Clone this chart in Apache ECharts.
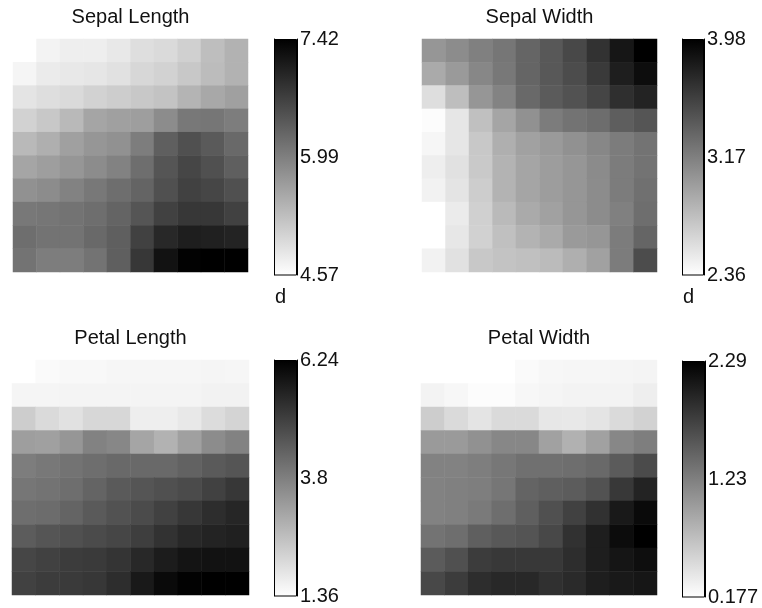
<!DOCTYPE html>
<html>
<head>
<meta charset="utf-8">
<script src="https://cdn.jsdelivr.net/npm/echarts@6/dist/echarts.min.js"></script>
<style>
  html, body { margin: 0; padding: 0; background: #fff; }
  #chart { width: 762px; height: 608px; }
</style>
</head>
<body>
<div id="chart"></div>
<script>
// Component planes of a 10x10 self-organizing map trained on the iris data.
// Rows run top to bottom, columns left to right.
const sepalLength = [
  [4.57,4.70,4.76,4.76,4.83,4.94,4.98,5.10,5.30,5.43],
  [4.68,4.79,4.83,4.85,4.91,5.02,5.07,5.18,5.32,5.43],
  [4.87,4.94,4.98,5.07,5.13,5.18,5.24,5.41,5.54,5.63],
  [5.07,5.18,5.35,5.58,5.63,5.65,5.86,6.08,6.10,6.02],
  [5.35,5.46,5.63,5.74,5.80,6.02,6.36,6.53,6.41,6.25],
  [5.58,5.65,5.74,5.86,5.97,6.19,6.47,6.64,6.53,6.36],
  [5.80,5.86,5.97,6.08,6.19,6.30,6.53,6.69,6.64,6.53],
  [6.08,6.10,6.13,6.19,6.30,6.47,6.69,6.81,6.81,6.69],
  [6.19,6.13,6.13,6.25,6.36,6.69,6.97,7.08,7.06,7.03],
  [6.13,6.02,6.02,6.13,6.36,6.81,7.22,7.40,7.42,7.42]
];
const sepalWidth = [
  [3.03,3.09,3.17,3.23,3.34,3.42,3.52,3.66,3.84,3.98],
  [2.90,3.00,3.12,3.22,3.34,3.42,3.50,3.61,3.79,3.90],
  [2.57,2.77,3.03,3.15,3.31,3.40,3.46,3.54,3.68,3.76],
  [2.38,2.52,2.76,2.93,3.06,3.19,3.25,3.29,3.38,3.44],
  [2.42,2.52,2.71,2.87,2.96,3.00,3.06,3.12,3.19,3.25],
  [2.47,2.55,2.70,2.84,2.93,2.98,3.03,3.10,3.19,3.25],
  [2.44,2.53,2.68,2.84,2.93,2.98,3.03,3.09,3.19,3.27],
  [2.36,2.49,2.66,2.80,2.90,2.96,3.03,3.09,3.17,3.28],
  [2.36,2.51,2.65,2.76,2.84,2.90,3.00,3.03,3.19,3.34],
  [2.44,2.55,2.71,2.74,2.76,2.79,2.87,2.96,3.19,3.50]
];
const petalLength = [
  [1.36,1.46,1.49,1.49,1.53,1.53,1.53,1.53,1.55,1.53],
  [1.55,1.55,1.57,1.57,1.57,1.57,1.57,1.57,1.61,1.61],
  [2.32,2.07,1.93,2.13,2.13,1.69,1.69,1.80,2.03,2.18],
  [3.22,3.18,3.37,3.75,3.66,3.08,2.83,3.18,3.56,3.75],
  [3.85,3.94,4.04,4.13,4.23,4.23,4.23,4.36,4.52,4.61],
  [3.98,4.04,4.13,4.33,4.52,4.61,4.71,4.80,5.00,5.19],
  [4.13,4.17,4.33,4.52,4.67,4.80,5.00,5.19,5.38,5.51],
  [4.48,4.61,4.71,4.80,4.90,5.05,5.28,5.47,5.57,5.63],
  [4.90,5.00,5.09,5.13,5.24,5.47,5.70,5.86,5.90,5.90],
  [5.00,5.09,5.13,5.19,5.38,5.76,6.05,6.20,6.24,6.24]
];
const petalWidth = [
  [0.177,0.177,0.177,0.177,0.22,0.24,0.25,0.25,0.26,0.27],
  [0.28,0.24,0.20,0.20,0.24,0.26,0.28,0.28,0.28,0.32],
  [0.59,0.48,0.40,0.48,0.48,0.38,0.37,0.40,0.48,0.55],
  [1.01,1.01,1.09,1.17,1.17,0.96,0.82,0.96,1.17,1.25],
  [1.21,1.21,1.25,1.30,1.36,1.36,1.38,1.42,1.54,1.67],
  [1.21,1.23,1.25,1.31,1.46,1.50,1.53,1.61,1.83,2.00],
  [1.21,1.23,1.28,1.38,1.50,1.63,1.75,1.88,2.08,2.21],
  [1.34,1.38,1.50,1.56,1.59,1.69,1.88,2.04,2.19,2.29],
  [1.54,1.63,1.79,1.83,1.83,1.83,1.92,2.04,2.12,2.17],
  [1.69,1.79,1.92,1.96,1.96,1.89,1.94,2.04,2.08,2.11]
];

// Colour bar ticks: [min, middle, max]
const sepalLengthTicks = [4.57, 5.99, 7.42];
const sepalWidthTicks = [2.36, 3.17, 3.98];
const petalLengthTicks = [1.36, 3.8, 6.24];
const petalWidthTicks = [0.177, 1.23, 2.29];

const titles = ['Sepal Length', 'Sepal Width', 'Petal Length', 'Petal Width'];
const colorbarUnit = 'd';

const planes = [sepalLength, sepalWidth, petalLength, petalWidth];
const tickSets = [sepalLengthTicks, sepalWidthTicks, petalLengthTicks, petalWidthTicks];

// layout of each panel: map area and colour bar
const layout = [
  { map: { left: 13,  top: 39,  width: 235, height: 233 }, bar: { left: 274, top: 39,  width: 23, height: 236 }, unit: true },
  { map: { left: 422, top: 39,  width: 235, height: 233 }, bar: { left: 682, top: 39,  width: 22, height: 236 }, unit: true },
  { map: { left: 12,  top: 360, width: 237, height: 235 }, bar: { left: 274, top: 360, width: 23, height: 236 }, unit: false },
  { map: { left: 421, top: 360, width: 236, height: 235 }, bar: { left: 682, top: 361, width: 23, height: 236 }, unit: false }
];

const FONT = '"Liberation Sans", Arial, sans-serif';
const idx = [0,1,2,3,4,5,6,7,8,9];

const grid = [], xAxis = [], yAxis = [], series = [], visualMap = [], title = [];

planes.forEach((plane, p) => {
  const L = layout[p];
  const ticks = tickSets[p];
  const lo = ticks[0], hi = ticks[2];

  // component plane
  const gMap = grid.length;
  grid.push(Object.assign({ containLabel: false }, L.map));
  xAxis.push({ type: 'category', gridIndex: gMap, data: idx, show: false });
  yAxis.push({ type: 'category', gridIndex: gMap, data: idx, inverse: true, show: false });
  const cells = [];
  plane.forEach((row, r) => row.forEach((v, c) => cells.push([c, r, v])));
  const sMap = series.length;
  series.push({
    type: 'heatmap',
    xAxisIndex: xAxis.length - 1,
    yAxisIndex: yAxis.length - 1,
    data: cells,
    itemStyle: { borderWidth: 0 },
    emphasis: { disabled: true }
  });
  visualMap.push({
    show: false, type: 'continuous', seriesIndex: sMap, dimension: 2,
    min: lo, max: hi, inRange: { color: ['#ffffff', '#000000'] }
  });

  // colour bar
  const gBar = grid.length;
  grid.push(Object.assign({ containLabel: false }, L.bar));
  xAxis.push({ type: 'category', gridIndex: gBar, data: [colorbarUnit], show: false });
  const xBar = xAxis.length - 1;
  yAxis.push({
    type: 'value', gridIndex: gBar, min: lo, max: hi, position: 'left',
    axisLine: { show: true, lineStyle: { color: '#000', width: 1 } },
    axisTick: { show: true, inside: true, length: 3, customValues: [ticks[1]], lineStyle: { color: '#000' } },
    axisLabel: { show: false },
    splitLine: { show: false }
  });
  yAxis.push({
    type: 'value', gridIndex: gBar, min: lo, max: hi, position: 'right',
    axisLine: { show: true, lineStyle: { color: '#000', width: 1 } },
    axisTick: { show: true, inside: true, length: 3, customValues: [ticks[1]], lineStyle: { color: '#000' } },
    axisLabel: {
      show: true, customValues: ticks, margin: 3, color: '#111',
      fontFamily: FONT, fontSize: 20,
      formatter: (v) => String(v)
    },
    splitLine: { show: false }
  });
  series.push({
    type: 'bar',
    xAxisIndex: xBar,
    yAxisIndex: yAxis.length - 1,
    data: [hi],
    barWidth: '100%',
    silent: true,
    itemStyle: {
      color: { type: 'linear', x: 0, y: 0, x2: 0, y2: 1,
        colorStops: [{ offset: 0, color: '#000000' }, { offset: 1, color: '#ffffff' }] },
      borderColor: '#000', borderWidth: 1
    }
  });

  // heading and unit label
  title.push({
    text: titles[p],
    left: L.map.left + L.map.width / 2,
    top: L.map.top - 32,
    padding: 0,
    textAlign: 'center',
    textStyle: { fontFamily: FONT, fontSize: 20, fontWeight: 'normal', color: '#111' }
  });
  if (L.unit) {
    title.push({
      text: colorbarUnit,
      left: L.bar.left + 1,
      top: L.bar.top + L.bar.height + 12,
      padding: 0,
      textStyle: { fontFamily: FONT, fontSize: 20, fontWeight: 'normal', color: '#111' }
    });
  }
});

const chart = echarts.init(document.getElementById('chart'), null, { renderer: 'canvas' });
chart.setOption({
  animation: false,
  backgroundColor: '#ffffff',
  title, grid, xAxis, yAxis, series, visualMap
});
</script>
</body>
</html>
